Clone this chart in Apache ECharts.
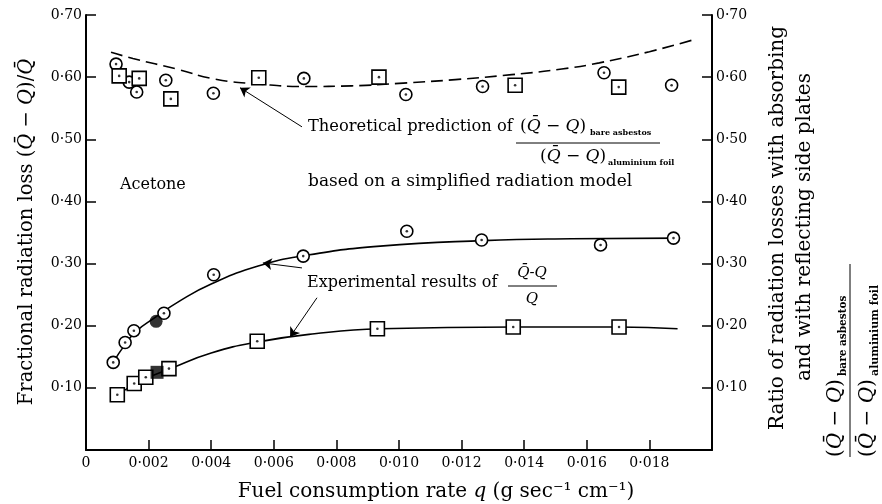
<!DOCTYPE html>
<html><head><meta charset="utf-8">
<script src="https://cdn.jsdelivr.net/npm/echarts@6/dist/echarts.min.js"></script>
<style>html,body{margin:0;padding:0;background:#fff}#c{width:882px;height:504px}</style>
</head><body><div id="c"></div>
<script>
// ---- tick labels ----
const xTickLabels = ['0','0·002','0·004','0·006','0·008','0·010','0·012','0·014','0·016','0·018',''];
const yTickLabels = ['','0·10','0·20','0·30','0·40','0·50','0·60','0·70'];

// ---- experimental (Q̄-Q)/Q ----
const expCircles = [[0.00087,0.141],[0.00125,0.173],[0.00153,0.192],[0.00249,0.220],[0.00408,0.282],[0.00694,0.312],[0.01025,0.352],[0.01264,0.338],[0.01644,0.330],[0.01877,0.341]];
const expCircleFilled = [[0.00224,0.207]];
const expSquares = [[0.00100,0.089],[0.00154,0.107],[0.00191,0.117],[0.00265,0.131],[0.00547,0.175],[0.00931,0.195],[0.01365,0.198],[0.01703,0.198]];
const expSquareFilled = [[0.00227,0.125]];

// ---- ratio (right axis) ----
const ratioCircles = [[0.00096,0.621],[0.00138,0.592],[0.00162,0.576],[0.00255,0.595],[0.00407,0.574],[0.00696,0.598],[0.01022,0.572],[0.01267,0.585],[0.01655,0.607],[0.01871,0.587]];
const ratioSquares = [[0.00106,0.602],[0.00170,0.598],[0.00271,0.565],[0.00552,0.599],[0.00936,0.600],[0.01371,0.587],[0.01702,0.584]];

// ---- fitted curves ----
const upperCurve = [[0.00087,0.141],[0.00125,0.170],[0.0016,0.191],[0.0022,0.213],[0.0030,0.240],[0.0040,0.267],[0.0055,0.296],[0.0070,0.313],[0.0094,0.328],[0.0127,0.337],[0.0155,0.340],[0.0189,0.341]];
const lowerCurve = [[0.0010,0.089],[0.0015,0.104],[0.0020,0.117],[0.0027,0.131],[0.0040,0.156],[0.0055,0.174],[0.0073,0.187],[0.0094,0.195],[0.0137,0.198],[0.0170,0.198],[0.0189,0.195]];
const theoryCurve = [[0.0008,0.640],[0.0015,0.630],[0.0029,0.613],[0.0041,0.597],[0.0055,0.589],[0.0070,0.585],[0.0085,0.586],[0.0100,0.590],[0.0118,0.596],[0.0136,0.604],[0.0152,0.613],[0.0164,0.623],[0.0180,0.641],[0.0194,0.660]];

// ---- arrows (data coords: from -> tip) ----
const arrows = [
  [[0.0069,0.520],[0.00492,0.583]],
  [[0.0069,0.293],[0.00565,0.301]],
  [[0.00738,0.245],[0.00652,0.182]]
];

const F = 'DejaVu Serif';
const chart = echarts.init(document.getElementById('c'), null, {renderer:'canvas'});

function xLab(v){ const i = Math.round(v/0.002); return xTickLabels[i] !== undefined ? xTickLabels[i] : ''; }
function yLab(v){ const i = Math.round(v/0.1); return yTickLabels[i] !== undefined ? yTickLabels[i] : ''; }

const axisLine = {show:true, lineStyle:{color:'#000', width:2}};
const axisTick = {show:true, inside:true, length:10, lineStyle:{color:'#000', width:1.5}};

function openSeries(data, sym, size, yi){
  return [{
    type:'scatter', data, yAxisIndex:yi, symbol:sym, symbolSize:size, z:5,
    itemStyle:{color:'#fff', borderColor:'#000', borderWidth:1.6, opacity:1}, silent:true
  },{
    type:'scatter', data, yAxisIndex:yi, symbol:'circle', symbolSize:2.6, z:6,
    itemStyle:{color:'#000'}, silent:true
  }];
}

function T(x,y,text,size,opt){
  opt = opt||{};
  return {type:'text', x, y, rotation: opt.rot||0, silent:true, z:50,
    style:{text, fontFamily:F, fontSize:size, fill:'#000', align:opt.align||'left', verticalAlign:'middle',
      fontWeight: opt.bold?'bold':'normal',
      rich:{i:{fontStyle:'italic', fontFamily:F, fontSize:size}}}};
}
function L(x1,y1,x2,y2,w){ return {type:'line', silent:true, z:50, shape:{x1,y1,x2,y2}, style:{stroke:'#000', lineWidth:w||1}}; }

const option = {
  animation:false,
  backgroundColor:'#fff',
  grid:{left:86, right:170, top:15, bottom:54, containLabel:false},
  xAxis:{type:'value', min:0, max:0.02, interval:0.002,
    axisLine, axisTick, splitLine:{show:false},
    axisLabel:{formatter:xLab, color:'#000', fontFamily:F, fontSize:14, margin:6, showMaxLabel:false}},
  yAxis:[
    {type:'value', min:0, max:0.7, interval:0.1, position:'left',
      axisLine, axisTick, splitLine:{show:false},
      axisLabel:{formatter:yLab, color:'#000', fontFamily:F, fontSize:14, margin:4}},
    {type:'value', min:0, max:0.7, interval:0.1, position:'right',
      axisLine, axisTick, splitLine:{show:false},
      axisLabel:{formatter:yLab, color:'#000', fontFamily:F, fontSize:14, margin:4}}
  ],
  series:[
    {type:'line', data:upperCurve, smooth:0.5, showSymbol:false, z:2, silent:true,
      lineStyle:{color:'#000', width:1.6},
      markLine:{silent:true, symbol:['none','arrow'], symbolSize:9, label:{show:false},
        itemStyle:{color:'#000'},
        lineStyle:{color:'#000', width:1, type:'solid'},
        emphasis:{disabled:true},
        data: arrows.map(a=>[{coord:a[0]},{coord:a[1]}])}},
    {type:'line', data:lowerCurve, smooth:0.5, showSymbol:false, z:2, silent:true,
      lineStyle:{color:'#000', width:1.6}},
    {type:'line', data:theoryCurve, smooth:0.5, showSymbol:false, z:2, silent:true, yAxisIndex:1,
      lineStyle:{color:'#000', width:1.6, type:[12,6]}},
    ...openSeries(expCircles,'circle',12,0),
    ...openSeries(expSquares,'rect',14,0),
    ...openSeries(ratioCircles,'circle',12,1),
    ...openSeries(ratioSquares,'rect',14,1),
    {type:'scatter', data:expCircleFilled, symbol:'circle', symbolSize:13, z:5, itemStyle:{color:'#000'}, silent:true},
    {type:'scatter', data:expSquareFilled, symbol:'rect', symbolSize:13, z:5, itemStyle:{color:'#000'}, silent:true}
  ],
  graphic:[
    T(120,185,'Acetone',16),
    T(308,127,'Theoretical prediction of',16.3),
    T(520,127,'({i|Q̄} − {i|Q})',17),
    T(590,133,'bare asbestos',8,{bold:true}),
    L(516,143,660,143,1),
    T(540,157,'({i|Q̄} − {i|Q})',17),
    T(608,163,'aluminium foil',8,{bold:true}),
    T(308,182,'based on a simplified radiation model',17),
    T(307,283,'Experimental results of',16),
    T(532,273,'{i|Q̄}-{i|Q}',15,{align:'center'}),
    L(508,286,557,286,1),
    T(532,299,'{i|Q}',15,{align:'center'}),
    T(436,492,'Fuel consumption rate {i|q} (g sec⁻¹ cm⁻¹)',20,{align:'center'}),
    T(27,232,'Fractional radiation loss ({i|Q̄} − {i|Q})/{i|Q̄}',19.5,{align:'center',rot:Math.PI/2}),
    {type:'group', x:778, y:228, rotation:Math.PI/2, silent:true, z:50, children:[
      T(0,0,'Ratio of radiation losses with absorbing',20,{align:'center'}),
      T(1,27,'and with reflecting side plates',20,{align:'center'}),
      T(-229,58,'({i|Q̄} − {i|Q})',20),
      T(-148,65,'bare asbestos',10.5,{bold:true}),
      L(-229,72,-36,72,1),
      T(-229,90,'({i|Q̄} − {i|Q})',20),
      T(-148,97,'aluminium foil',11,{bold:true})
    ]}
  ]
};
chart.setOption(option);
</script>
</body></html>
